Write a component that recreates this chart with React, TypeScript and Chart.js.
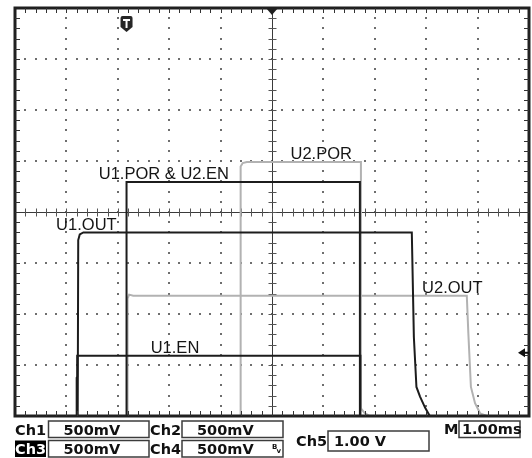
import React, { useEffect, useRef } from "react";
import { Chart, registerables } from "chart.js";

Chart.register(...registerables);

// Time axis in ms (M 1.00ms / div, 10 div), level axis in divisions (8 div)
const u1EnT = [0, 1.2, 1.2, 1.21, 1.21, 6.72, 6.72, 10];
const u1EnV = [0, 0, 0.75, 0.77, 1.18, 1.18, 0, 0];

const u1OutT = [0, 1.22, 1.23, 1.26, 1.33, 7.72, 7.76, 7.81, 7.88, 7.98, 8.07, 10];
const u1OutV = [0, 0, 3.45, 3.56, 3.6, 3.6, 1.55, 0.57, 0.38, 0.16, 0, 0];

const u1PorT = [0, 2.17, 2.17, 6.71, 6.71, 10];
const u1PorV = [0, 0, 4.59, 4.59, 0, 0];

const u2PorT = [0, 4.39, 4.39, 4.43, 4.51, 6.73, 6.73, 6.8, 6.9, 10];
const u2PorV = [0, 0, 4.89, 4.96, 4.98, 4.98, 0.15, 0.06, 0, 0];

const u2OutT = [0, 2.19, 2.19, 2.22, 2.3, 8.79, 8.82, 8.87, 8.95, 9.05, 9.18, 10];
const u2OutV = [0, 0, 2.3, 2.38, 2.36, 2.36, 1.62, 0.57, 0.25, 0.05, 0, 0];

const labelText = ["U1.POR & U2.EN", "U2.POR", "U1.OUT", "U1.EN", "U2.OUT"];
const labelT = [1.63, 5.36, 0.8, 2.64, 7.92];
const labelV = [4.65, 5.03, 3.65, 1.235, 2.42];

const chNames = ["Ch1", "Ch2", "Ch3", "Ch4"];
const chScales = ["500mV", "500mV", "500mV", "500mV"];
const ch5Name = "Ch5";
const ch5Scale = "1.00 V";
const timeName = "M";
const timeScale = "1.00ms";

const triggerT = 2.17;
const groundV = 1.24;

const xDivs = 10;
const yDivs = 8;

const DARK = "#1c1c1c";
const GRAY = "#b2b2b2";

function pts(t: number[], v: number[]) {
  return t.map((tt, i) => ({ x: tt, y: v[i] }));
}

const scopePlugin = {
  id: "scope",
  beforeDatasetsDraw(chart: any) {
    const { ctx, chartArea: a, scales } = chart;
    const x = scales.x;
    const y = scales.y;
    ctx.save();
    // dotted graticule
    ctx.fillStyle = "#6e6e6e";
    for (let i = 1; i < yDivs; i++) {
      if (i === yDivs / 2) continue;
      const py = Math.round(y.getPixelForValue(i));
      for (let k = 1; k < xDivs * 5; k++) {
        const px = Math.round(x.getPixelForValue(k * 0.2));
        ctx.fillRect(px - 1, py - 1, 2, 2);
      }
    }
    for (let j = 1; j < xDivs; j++) {
      if (j === xDivs / 2) continue;
      const px = Math.round(x.getPixelForValue(j));
      for (let k = 1; k < yDivs * 5; k++) {
        const py = Math.round(y.getPixelForValue(k * 0.2));
        ctx.fillRect(px - 1, py - 1, 2, 2);
      }
    }
    // center axes
    const cy = Math.round(y.getPixelForValue(yDivs / 2)) + 0.5;
    const cx = Math.round(x.getPixelForValue(xDivs / 2)) + 0.5;
    ctx.strokeStyle = "#3a3a3a";
    ctx.lineWidth = 1;
    ctx.beginPath();
    ctx.moveTo(a.left, cy);
    ctx.lineTo(a.right, cy);
    ctx.moveTo(cx, a.top);
    ctx.lineTo(cx, a.bottom);
    ctx.stroke();
    ctx.strokeStyle = "#555";
    ctx.beginPath();
    for (let k = 1; k < xDivs * 5; k++) {
      const px = Math.round(x.getPixelForValue(k * 0.2)) + 0.5;
      ctx.moveTo(px, cy - 4);
      ctx.lineTo(px, cy + 4);
    }
    for (let k = 1; k < yDivs * 5; k++) {
      const py = Math.round(y.getPixelForValue(k * 0.2)) + 0.5;
      ctx.moveTo(cx - 4, py);
      ctx.lineTo(cx + 4, py);
    }
    ctx.stroke();
    ctx.restore();
  },
  afterDatasetsDraw(chart: any) {
    const { ctx, chartArea: a, scales } = chart;
    const x = scales.x;
    const y = scales.y;
    ctx.save();
    // border frame
    ctx.strokeStyle = "#202020";
    ctx.lineWidth = 3;
    ctx.strokeRect(a.left, a.top, a.right - a.left, a.bottom - a.top);
    // border ticks
    ctx.lineWidth = 1;
    ctx.strokeStyle = "#333";
    ctx.beginPath();
    for (let k = 1; k < xDivs * 5; k++) {
      const px = Math.round(x.getPixelForValue(k * 0.2)) + 0.5;
      ctx.moveTo(px, a.top);
      ctx.lineTo(px, a.top + 5);
      ctx.moveTo(px, a.bottom);
      ctx.lineTo(px, a.bottom - 5);
    }
    for (let k = 1; k < yDivs * 5; k++) {
      const py = Math.round(y.getPixelForValue(k * 0.2)) + 0.5;
      ctx.moveTo(a.left, py);
      ctx.lineTo(a.left + 5, py);
      ctx.moveTo(a.right, py);
      ctx.lineTo(a.right - 5, py);
    }
    ctx.stroke();

    // top center marker
    const cx = x.getPixelForValue(xDivs / 2);
    ctx.fillStyle = "#202020";
    ctx.beginPath();
    ctx.moveTo(cx - 6, a.top);
    ctx.lineTo(cx + 6, a.top);
    ctx.lineTo(cx, a.top + 7);
    ctx.closePath();
    ctx.fill();

    // trigger marker
    const tx = x.getPixelForValue(triggerT);
    const ty = a.top + 8;
    ctx.fillStyle = "#262626";
    ctx.beginPath();
    ctx.moveTo(tx - 6, ty + 2);
    ctx.quadraticCurveTo(tx - 6, ty, tx - 4, ty);
    ctx.lineTo(tx + 4, ty);
    ctx.quadraticCurveTo(tx + 6, ty, tx + 6, ty + 2);
    ctx.lineTo(tx + 6, ty + 11);
    ctx.lineTo(tx, ty + 16);
    ctx.lineTo(tx - 6, ty + 11);
    ctx.closePath();
    ctx.fill();
    ctx.fillStyle = "#fff";
    ctx.fillRect(tx - 3.5, ty + 3, 7, 2);
    ctx.fillRect(tx - 1, ty + 3, 2, 9);

    // ground level arrow at right
    const gy = y.getPixelForValue(groundV);
    ctx.fillStyle = "#111";
    ctx.beginPath();
    ctx.moveTo(a.right - 11, gy);
    ctx.lineTo(a.right - 4, gy - 4.5);
    ctx.lineTo(a.right - 4, gy + 4.5);
    ctx.closePath();
    ctx.fill();
    ctx.fillRect(a.right - 5, gy - 1, 5, 2);

    // trace labels
    ctx.fillStyle = "#151515";
    ctx.font = "16.5px 'Liberation Sans', Arial, sans-serif";
    ctx.textBaseline = "alphabetic";
    ctx.textAlign = "left";
    labelText.forEach((t, i) => {
      ctx.fillText(t, x.getPixelForValue(labelT[i]), y.getPixelForValue(labelV[i]));
    });

    // status bar
    const font = "bold 14.5px 'DejaVu Sans', Verdana, sans-serif";
    ctx.font = font;
    ctx.lineWidth = 1.5;
    ctx.strokeStyle = "#3c3c3c";
    const rows = [
      { top: 421, bottom: 437.5, base: 435 },
      { top: 440.5, bottom: 457, base: 454 },
    ];
    const cols = [
      { name: 15, boxL: 48.5, boxR: 149 },
      { name: 150, boxL: 182, boxR: 283 },
    ];
    for (let r = 0; r < 2; r++) {
      for (let c = 0; c < 2; c++) {
        const idx = r * 2 + c;
        const row = rows[r];
        const col = cols[c];
        if (idx === 2) {
          ctx.fillStyle = "#000";
          ctx.fillRect(col.name, row.top, 31, row.bottom - row.top);
          ctx.fillStyle = "#fff";
        } else {
          ctx.fillStyle = "#111";
        }
        ctx.fillText(chNames[idx], col.name, row.base);
        ctx.strokeRect(col.boxL, row.top, col.boxR - col.boxL, row.bottom - row.top);
        ctx.fillStyle = "#111";
        ctx.fillText(chScales[idx], col.boxL + 15, row.base);
      }
    }
    // bandwidth icon on Ch4
    ctx.font = "bold 7px 'DejaVu Sans', sans-serif";
    ctx.fillText("B", 272, 449);
    ctx.fillText("v", 276.5, 453);
    ctx.font = font;
    // Ch5
    ctx.fillText(ch5Name, 296, 446);
    ctx.strokeRect(328, 431, 101, 20);
    ctx.fillText(ch5Scale, 334, 446);
    // timebase
    ctx.fillText(timeName, 444, 434);
    ctx.strokeRect(459, 421, 61, 16.5);
    ctx.fillText(timeScale, 462, 434);
    ctx.restore();
  },
};

export default function App() {
  const ref = useRef<HTMLCanvasElement | null>(null);
  useEffect(() => {
    if (!ref.current) return;
    const common = {
      pointRadius: 0,
      borderWidth: 2,
      tension: 0,
      fill: false,
      borderCapStyle: "butt",
      borderJoinStyle: "miter",
    };
    const chart = new Chart(ref.current, {
      type: "line",
      data: {
        datasets: [
          { label: "U1.EN", data: pts(u1EnT, u1EnV), borderColor: DARK, order: 0, ...common },
          { label: "U1.OUT", data: pts(u1OutT, u1OutV), borderColor: DARK, order: 0, ...common },
          { label: "U1.POR & U2.EN", data: pts(u1PorT, u1PorV), borderColor: DARK, order: 0, ...common },
          { label: "U2.POR", data: pts(u2PorT, u2PorV), borderColor: GRAY, order: 1, ...common },
          { label: "U2.OUT", data: pts(u2OutT, u2OutV), borderColor: GRAY, order: 1, ...common },
        ] as any,
      },
      options: {
        animation: false,
        responsive: false,
        devicePixelRatio: 1,
        layout: { padding: { left: 15, right: 3, top: 8, bottom: 42 } },
        scales: {
          x: { type: "linear", min: 0, max: xDivs, display: false },
          y: { type: "linear", min: 0, max: yDivs, display: false },
        },
        plugins: {
          legend: { display: false },
          tooltip: { enabled: false },
        },
        events: [],
      } as any,
      plugins: [scopePlugin as any],
    });
    return () => chart.destroy();
  }, []);
  return (
    <div style={{ position: "absolute", left: 0, top: 0, width: 532, height: 458, background: "#fff" }}>
      <canvas ref={ref} width={532} height={458} style={{ display: "block" }} />
    </div>
  );
}
